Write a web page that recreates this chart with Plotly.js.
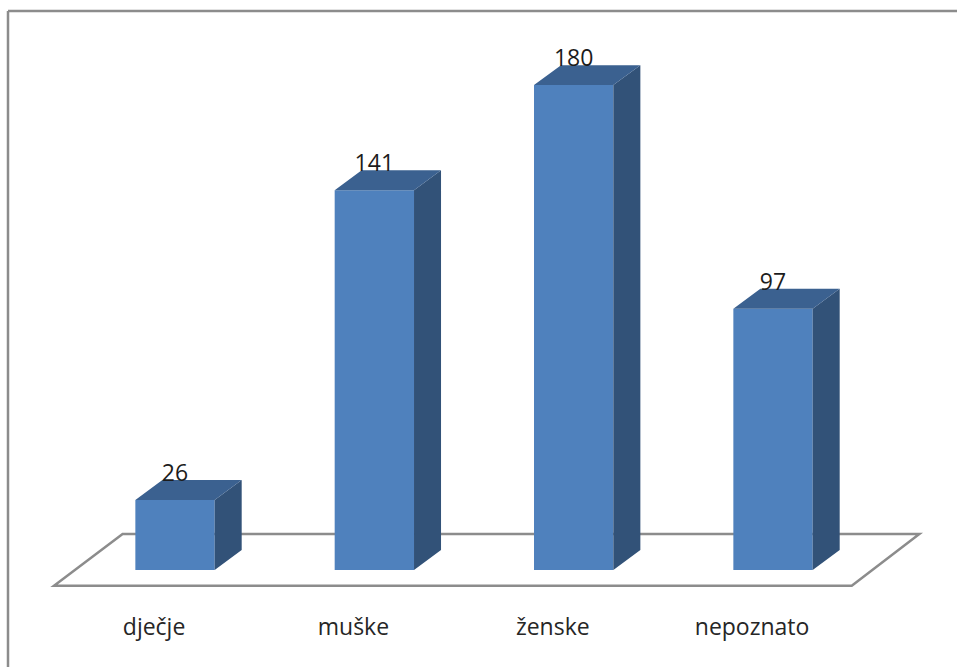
<!DOCTYPE html>
<html><head><meta charset="utf-8">
<script src="https://cdn.plot.ly/plotly-3.0.1.min.js"></script>
<style>html,body{margin:0;padding:0;background:#fff}#c{width:957px;height:667px}</style>
</head><body><div id="c"></div>
<script>
const categories = ["dječje", "muške", "ženske", "nepoznato"];
const values = [26, 141, 180, 97];
const positions = [0, 1, 2, 3];

const barWidth = 0.398, depthX = 0.1355, depthY = 7.42, labelGap = 9.1, tickShift = -0.105;
const hw = barWidth / 2;

const sideX = [], sideY = [], topX = [], topY = [];
positions.forEach((p, i) => {
  const v = values[i];
  sideX.push(p+hw, p+hw+depthX, p+hw+depthX, p+hw, p+hw, null);
  sideY.push(0, depthY, v+depthY, v, 0, null);
  topX.push(p-hw, p-hw+depthX, p+hw+depthX, p+hw, p-hw, null);
  topY.push(v, v+depthY, v+depthY, v, v, null);
});

const traces = [
  {type:"bar", x:positions, y:values, width:barWidth,
   marker:{color:"#4f81bd", line:{width:0}}, hoverinfo:"skip"},
  {type:"scatter", mode:"lines", x:sideX, y:sideY, fill:"toself",
   fillcolor:"#325278", line:{width:0, color:"#325278"}, hoverinfo:"skip"},
  {type:"scatter", mode:"lines", x:topX, y:topY, fill:"toself",
   fillcolor:"#3b6190", line:{width:0, color:"#3b6190"}, hoverinfo:"skip"},
  {type:"scatter", mode:"text", x:positions,
   y:values.map(v => v + labelGap), text:values.map(String),
   textposition:"middle center",
   textfont:{family:"Open Sans, sans-serif", size:23, color:"#1c1c1c"}, hoverinfo:"skip"}
];

const layout = {
  width:957, height:667, showlegend:false,
  margin:{l:0, r:0, t:0, b:57, pad:0},
  paper_bgcolor:"#fff", plot_bgcolor:"#fff",
  xaxis:{range:[-0.878, 3.923], tickmode:"array",
    tickvals:positions.map(p => p + tickShift), ticktext:categories,
    showgrid:false, zeroline:false, showline:false, ticks:"", ticklen:0, ticklabelstandoff:1,
    tickfont:{family:"Open Sans, sans-serif", size:23, color:"#262626"}, automargin:false},
  yaxis:{range:[-14.85, 211.6], visible:false, showgrid:false, zeroline:false},
  shapes:[
    {type:"path", layer:"below", xref:"x", yref:"y",
     path:"M -0.607,-5.83 L -0.263,13.36 L 3.734,13.36 L 3.395,-5.83 Z",
     fillcolor:"#fff", line:{color:"#8c8c8c", width:2.5}},
    {type:"line", xref:"paper", yref:"paper", layer:"above",
     x0:8/957, x1:8/957, y0:-57/610, y1:(610-11)/610, line:{color:"#8c8c8c", width:2.5}},
    {type:"line", xref:"paper", yref:"paper", layer:"above",
     x0:8/957, x1:1, y0:(610-11)/610, y1:(610-11)/610, line:{color:"#8c8c8c", width:2.5}}
  ]
};
Plotly.newPlot("c", traces, layout, {displayModeBar:false, staticPlot:true});
</script></body></html>
